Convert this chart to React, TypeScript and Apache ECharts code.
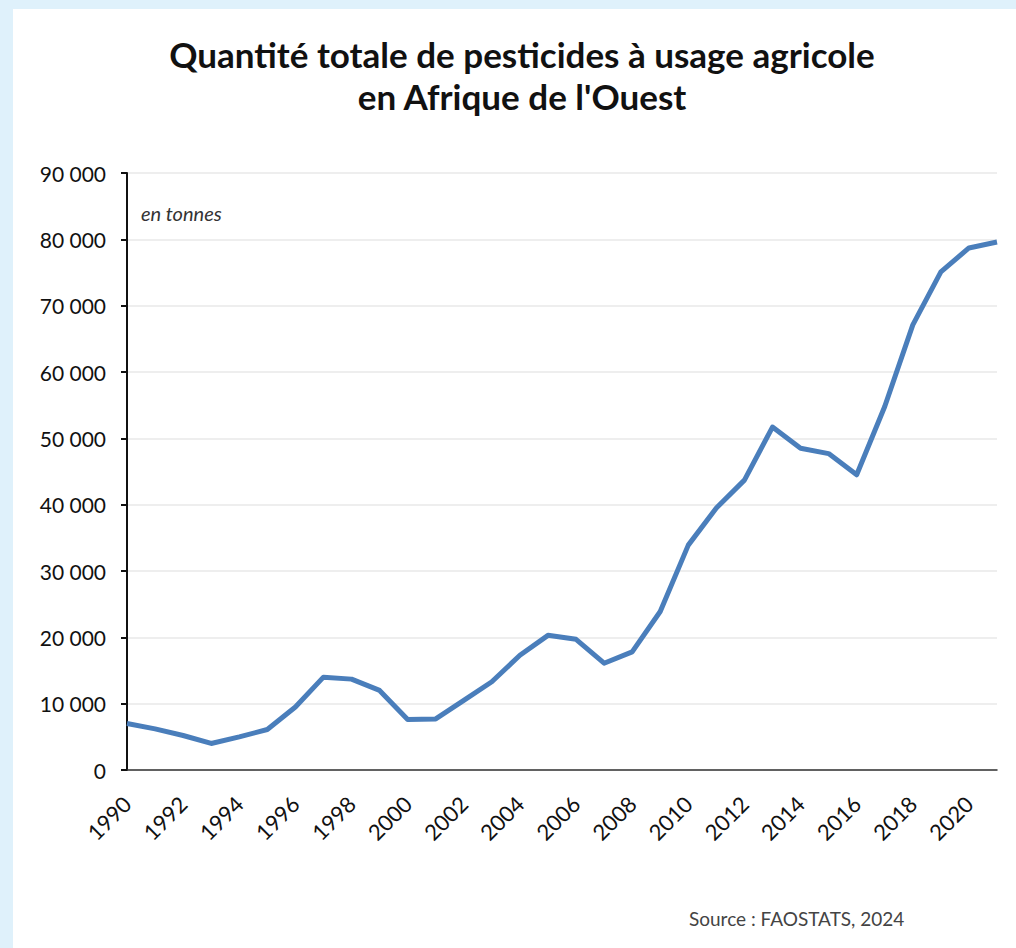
import React, { useEffect, useRef } from "react";
import * as echarts from "echarts";

const years: string[] = [
  "1990","1991","1992","1993","1994","1995","1996","1997","1998","1999",
  "2000","2001","2002","2003","2004","2005","2006","2007","2008","2009",
  "2010","2011","2012","2013","2014","2015","2016","2017","2018","2019",
  "2020","2021",
];

const tonnes: number[] = [
  7000, 6200, 5200, 4000, 5000, 6100, 9500, 14000, 13700, 12000,
  7600, 7700, 10500, 13300, 17300, 20300, 19700, 16100, 17800, 23900,
  33900, 39500, 43700, 51700, 48500, 47700, 44500, 54800, 67100, 75100,
  78700, 79600,
];

const yTicks = { min: 0, max: 90000, interval: 10000 };

const titleLines = ["Quantité totale de pesticides à usage agricole", "en Afrique de l'Ouest"];
const unitNote = "en tonnes";
const sourceNote = "Source : FAOSTATS, 2024";

const fmt = (v: number) => String(v).replace(/\B(?=(\d{3})+(?!\d))/g, " ");

export default function App() {
  const ref = useRef<HTMLDivElement>(null);
  useEffect(() => {
    if (!ref.current) return;
    const chart = echarts.init(ref.current, null, { renderer: "svg" });
    const font = "Lato, 'Open Sans', sans-serif";
    chart.setOption({
      animation: false,
      backgroundColor: "#DFF1FB",
      textStyle: { fontFamily: font },
      graphic: [
        { type: "rect", left: 13, top: 9, shape: { width: 1003, height: 939 }, style: { fill: "#ffffff" }, z: -10 },
        { type: "text", x: 522, y: 54, style: { text: titleLines[0], font: `bold 35px ${font}`, fill: "#111", align: "center", verticalAlign: "middle" } },
        { type: "text", x: 522, y: 96, style: { text: titleLines[1], font: `bold 35px ${font}`, fill: "#111", align: "center", verticalAlign: "middle" } },
        { type: "text", x: 141, y: 213, style: { text: unitNote, font: `italic 20px ${font}`, fill: "#333", verticalAlign: "middle" } },
        { type: "text", x: 689, y: 918, style: { text: sourceNote, font: `19px ${font}`, fill: "#444", verticalAlign: "middle" } },
      ],
      grid: { left: 127, right: 19, top: 173, bottom: 178, containLabel: false },
      xAxis: {
        type: "category",
        data: years,
        boundaryGap: false,
        axisLine: { show: true, lineStyle: { color: "#333", width: 1.5 } },
        axisTick: { show: false },
        axisLabel: {
          interval: 1,
          rotate: 45,
          margin: 30,
          color: "#111",
          fontSize: 22,
          fontFamily: font,
        },
        splitLine: { show: false },
      },
      yAxis: {
        type: "value",
        min: yTicks.min,
        max: yTicks.max,
        interval: yTicks.interval,
        axisLine: { show: true, lineStyle: { color: "#111", width: 2 } },
        axisTick: { show: true, length: 6, lineStyle: { color: "#111", width: 2 } },
        axisLabel: { color: "#111", fontSize: 21, margin: 21, fontFamily: font, formatter: (v: number) => fmt(v) },
        splitLine: { show: true, lineStyle: { color: "#E8E8E8", width: 1.5 } },
      },
      series: [
        {
          type: "line",
          data: tonnes,
          symbol: "none",
          lineStyle: { color: "#4A7EBB", width: 5, join: "round" },
        },
      ],
    });
    return () => chart.dispose();
  }, []);
  return <div ref={ref} style={{ position: "fixed", left: 0, top: 0, width: 1016, height: 948 }} />;
}
